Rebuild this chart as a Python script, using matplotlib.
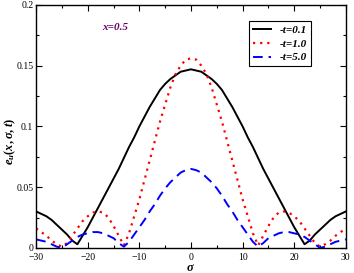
import numpy as np
import matplotlib
matplotlib.use('Agg')
import matplotlib.pyplot as plt
from matplotlib.ticker import MultipleLocator

plt.rcParams['font.family'] = ['Liberation Serif', 'DejaVu Serif']
plt.rcParams['mathtext.fontset'] = 'custom'
plt.rcParams['mathtext.it'] = 'Liberation Serif:bold:italic'
plt.rcParams['mathtext.rm'] = 'Liberation Serif:bold'

# sigma grid
sigma = list(range(-30, 31))

# -t = 0.1
e_t01 = [0.030, 0.028, 0.026, 0.023, 0.019, 0.015, 0.011, 0.006, 0.003, 0.010,
         0.017, 0.025, 0.033, 0.041, 0.049, 0.057, 0.065, 0.074, 0.083, 0.091,
         0.100, 0.108, 0.116, 0.123, 0.130, 0.135, 0.139, 0.142, 0.145, 0.146,
         0.147,
         0.146, 0.145, 0.142, 0.139, 0.135, 0.130, 0.123, 0.116, 0.108, 0.100,
         0.091, 0.083, 0.074, 0.065, 0.057, 0.049, 0.041, 0.033, 0.025, 0.017,
         0.010, 0.003, 0.006, 0.011, 0.015, 0.019, 0.023, 0.026, 0.028, 0.030]

# -t = 1.0
e_t10 = [0.016, 0.013, 0.010, 0.006, 0.003, 0.001, 0.004, 0.010, 0.016, 0.022,
         0.026, 0.029, 0.030, 0.029, 0.025, 0.018, 0.010, 0.002, 0.012, 0.026,
         0.040, 0.056, 0.072, 0.088, 0.104, 0.118, 0.132, 0.143, 0.150, 0.155,
         0.156,
         0.155, 0.150, 0.143, 0.132, 0.118, 0.104, 0.088, 0.072, 0.056, 0.040,
         0.026, 0.012, 0.002, 0.010, 0.018, 0.025, 0.029, 0.030, 0.029, 0.026,
         0.022, 0.016, 0.010, 0.004, 0.001, 0.003, 0.006, 0.010, 0.013, 0.016]

# -t = 5.0
e_t50 = [0.007, 0.006, 0.005, 0.003, 0.001, 0.000, 0.003, 0.006, 0.009, 0.011,
         0.012, 0.013, 0.013, 0.012, 0.010, 0.008, 0.004, 0.001, 0.005, 0.011,
         0.017, 0.023, 0.030, 0.036, 0.043, 0.049, 0.054, 0.058, 0.062, 0.064,
         0.065,
         0.064, 0.062, 0.058, 0.054, 0.049, 0.043, 0.036, 0.030, 0.023, 0.017,
         0.011, 0.005, 0.001, 0.004, 0.008, 0.010, 0.012, 0.013, 0.013, 0.012,
         0.011, 0.009, 0.006, 0.003, 0.000, 0.001, 0.003, 0.005, 0.006, 0.007]

fig = plt.figure(figsize=(3.54, 2.73), dpi=100)
ax = fig.add_axes([0.102, 0.092, 0.875, 0.89])

ax.plot(sigma, e_t01, color='black', lw=1.4, ls='-', label='-t=0.1')
ax.plot(sigma, e_t10, color='red', lw=1.6, ls=(0, (1, 2.2)), label='-t=1.0')
ax.plot(sigma, e_t50, color='blue', lw=1.4, ls=(0, (5, 3)), label='-t=5.0')

ax.set_xlim(-30, 30)
ax.set_ylim(0, 0.2)
ax.xaxis.set_major_locator(MultipleLocator(10))
ax.xaxis.set_minor_locator(MultipleLocator(5))
ax.yaxis.set_minor_locator(MultipleLocator(0.025))
ax.set_yticks([0, 0.05, 0.1, 0.15, 0.2])
ax.set_yticklabels(['0', '0.05', '0.1', '0.15', '0.2'])
ax.tick_params(which='both', direction='in', top=True, right=True, labelsize=7)
ax.tick_params(axis='x', pad=4)
ax.tick_params(axis='y', pad=2)
ax.tick_params(which='major', length=4, width=0.8)
ax.tick_params(which='minor', length=2, width=0.8)
for s in ax.spines.values():
    s.set_linewidth(1.0)

ax.set_xlabel(r'$\sigma$', fontsize=9, labelpad=0)
ax.set_ylabel(r'$e_u(x,\sigma,t)$', fontsize=9)
ax.yaxis.set_label_coords(-0.058, 0.44)

ax.text(0.255, 0.905, 'x=0.5', transform=ax.transAxes, ha='center', va='center',
        fontsize=8, fontweight='bold', fontstyle='italic', color='#660066')

leg = ax.legend(loc='upper right', bbox_to_anchor=(0.905, 0.955), fancybox=False,
                edgecolor='black', framealpha=1, handlelength=1.6,
                handletextpad=0.8, borderpad=0.35, labelspacing=0.35,
                prop={'size': 8, 'weight': 'bold', 'style': 'italic'})
leg.get_frame().set_linewidth(0.8)

fig.savefig('out.png', dpi=100)
